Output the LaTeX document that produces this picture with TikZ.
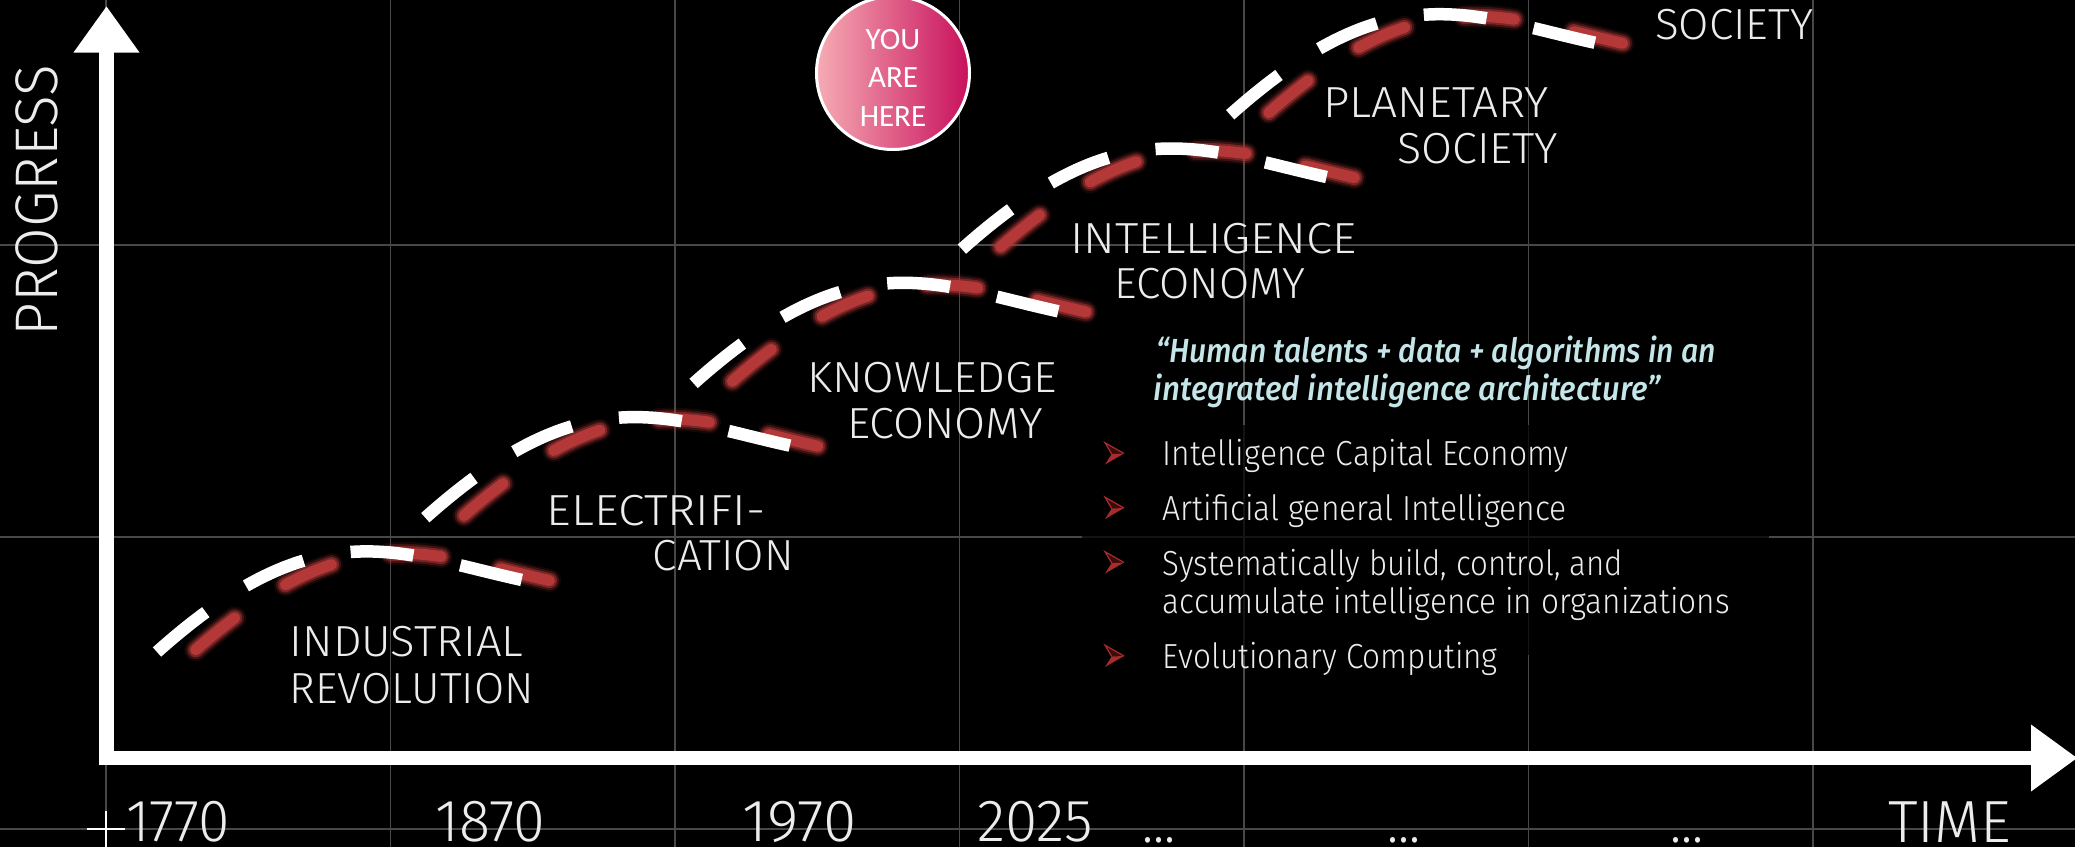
\documentclass[tikz,border=0pt]{standalone}
\usepackage{fontspec}
\usepackage{graphicx}
\IfFontExistsTF{Fira Sans Light}{\newfontfamily\dinfont{Fira Sans Light}}{\newfontfamily\dinfont{Fira Sans}}
\IfFontExistsTF{Fira Sans Medium Italic}{\newfontfamily\quotefont{Fira Sans Medium Italic}\newcommand\quoteshape{}}{\newfontfamily\quotefont{Fira Sans}\newcommand\quoteshape{\bfseries\itshape}}
\newfontfamily\calfont{Carlito}
\setmainfont{Fira Sans}
\newcommand\fitw[2]{\resizebox{#1pt}{\height}{#2}}
\definecolor{gridc}{RGB}{72,72,72}
\definecolor{shadowred}{RGB}{180,56,56}
\definecolor{quotec}{RGB}{196,230,233}
\definecolor{pinkL}{RGB}{246,172,180}
\definecolor{pinkR}{RGB}{200,16,92}
\definecolor{bulletred}{RGB}{168,44,44}
\definecolor{bulletdark}{RGB}{60,12,12}
\definecolor{txtw}{RGB}{236,236,236}
\tikzset{
  gridline/.style={draw=gridc, line width=1.3pt},
  lbl/.style={inner sep=0pt, text=txtw, anchor=base west, font=\dinfont\fontsize{43.5pt}{44pt}\selectfont},
  yearlbl/.style={inner sep=0pt, text=txtw, anchor=base west, font=\dinfont\fontsize{59.5pt}{60pt}\selectfont},
  bullettxt/.style={inner sep=0pt, text=txtw, anchor=base west, font=\dinfont\fontsize{34.8pt}{35pt}\selectfont},
  quotetxt/.style={inner sep=0pt, text=quotec, anchor=base west, font=\quotefont\quoteshape\fontsize{33.4pt}{34pt}\selectfont},
  curveA/.style={insert path={(157,652) .. controls (317,509) and (395,552) .. (522,580)}},
  whitedash/.style={draw=white, line width=12.5pt, dash pattern=on 63pt off 48pt},
  reddash/.style={draw=shadowred, line cap=round, dash pattern=on 50.5pt off 60.5pt, dash phase=104.75pt},
}
\begin{document}
\begin{tikzpicture}[x=1pt,y=-1pt]
\useasboundingbox (0,0) rectangle (2075,847);
\fill[black] (0,0) rectangle (2075,847);
% grid
\foreach \gx in {106,390.5,675,959.5,1244,1528.5,1813} \draw[gridline] (\gx,0) -- (\gx,847);
\foreach \gy in {245,537,829} \draw[gridline] (0,\gy) -- (2075,\gy);
% text box
\fill[black, opacity=0.72] (1082,425) rectangle (1769,655);
% axes
\draw[white, line width=14.5pt, line join=miter] (106.5,52) -- (106.5,758) -- (2032,758);
\fill[white] (106.5,6.5) -- (73.5,52.5) -- (139.5,52.5) -- cycle;
\fill[white] (2077,758) -- (2031,724.5) -- (2031,791.5) -- cycle;
\draw[white, line width=1.3pt] (87,829) -- (125,829) (106,811) -- (106,847);
% curves
\foreach \k in {0,1,2,3,4}{
  \begin{scope}[shift={(268.3*\k,-134.3*\k)}]
    \begin{scope}[shift={(34,2)}]
      \foreach \w/\o in {23/0.12,19/0.25,15/0.5,11/1}
        \draw[reddash, line width=\w pt, opacity=\o][curveA];
    \end{scope}
    \draw[whitedash][curveA];
  \end{scope}
}
% era labels
\node[lbl] (ind1) at (289.5,656) {\fitw{233.8}{INDUSTRIAL}};
\node[lbl] (ind2) at (289.5,703) {\fitw{244}{REVOLUTION}};
\node[lbl] (ele1) at (546.5,525) {\fitw{218.5}{ELECTRIFI-}};
\node[lbl] (ele2) at (652.7,570) {\fitw{141}{CATION}};
\node[lbl] (kno1) at (807,392) {\fitw{250}{KNOWLEDGE}};
\node[lbl] (kno2) at (847,438) {\fitw{196}{ECONOMY}};
\node[lbl] (int1) at (1070.5,253) {\fitw{285.5}{INTELLIGENCE}};
\node[lbl] (int2) at (1114,298) {\fitw{191}{ECONOMY}};
\node[lbl] (pla1) at (1322.8,117) {\fitw{226}{PLANETARY}};
\node[lbl] (pla2) at (1397,163) {\fitw{161}{SOCIETY}};
\node[lbl] (soc) at (1655,39.3) {\fitw{158}{SOCIETY}};
% axis labels
\node[yearlbl] (y1770) at (126,841) {\fitw{104}{1770}};
\node[yearlbl] (y1870) at (435,841) {\fitw{110}{1870}};
\node[yearlbl] (y1970) at (742,841) {\fitw{114}{1970}};
\node[yearlbl] (y2025) at (977,841) {\fitw{116}{2025}};
\node[yearlbl] (d1) at (1142,842) {\fitw{33}{...}};
\node[yearlbl] (d2) at (1387,842) {\fitw{33}{...}};
\node[yearlbl] (d3) at (1670,842) {\fitw{33}{...}};
\node[yearlbl] (time) at (1888,842) {\fitw{123}{TIME}};
\node[yearlbl, font=\dinfont\fontsize{60.2pt}{61pt}\selectfont, rotate=90] (prog) at (57.1,336.7) {\fitw{271.7}{PROGRESS}};
% quote
\node[quotetxt] (q1) at (1156,362.7) {\fitw{560}{“Human talents + data + algorithms in an}};
\node[quotetxt] (q2) at (1153.7,400) {\fitw{507}{integrated intelligence architecture”}};
% bullets
\foreach \c in {453.5,508,562.5,656}{
  \fill[bulletdark] (1124,\c) -- (1105,\c-10.8) -- (1111.7,\c+0.5) -- cycle;
  \fill[bulletred] (1124,\c) -- (1111.7,\c+0.5) -- (1105,\c+11) -- cycle;
  \draw[bulletred, line width=1.2pt, line join=miter] (1124,\c) -- (1105,\c-10.8) -- (1111.7,\c+0.5);
}
\node[bullettxt] (b1) at (1162.6,465.7) {\fitw{406}{Intelligence Capital Economy}};
\node[bullettxt] (b2) at (1162.6,520) {\fitw{404}{Artificial general Intelligence}};
\node[bullettxt] (b3) at (1162.6,575) {\fitw{460}{Systematically build, control, and}};
\node[bullettxt] (b4) at (1162.6,613.3) {\fitw{567}{accumulate intelligence in organizations}};
\node[bullettxt] (b5) at (1162.6,668) {\fitw{335}{Evolutionary Computing}};
% you are here
\node[circle, draw=white, line width=3pt, minimum size=153pt, inner sep=0pt, left color=pinkL, right color=pinkR] (here) at (893,73) {};
\node[align=center, text=white, inner sep=0pt, font=\calfont\fontsize{31pt}{38.5pt}\selectfont] (heretxt) at (893,77.7) {YOU\\ARE\\HERE};
\end{tikzpicture}
\end{document}
